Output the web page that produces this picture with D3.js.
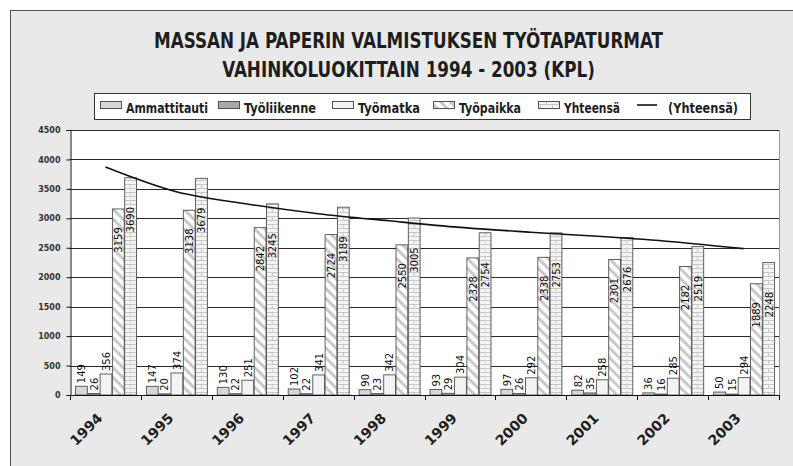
<!DOCTYPE html>
<html>
<head>
<meta charset="utf-8">
<script src="https://cdn.jsdelivr.net/npm/d3@7/dist/d3.min.js"></script>
<style>
body { margin: 0; background: #fff; }
</style>
</head>
<body>
<div id="chartContainer"></div>
<script type="text/javascript">
// data
var years = ["1994", "1995", "1996", "1997", "1998", "1999", "2000", "2001", "2002", "2003"];
var seriesNames = ["Ammattitauti", "Työliikenne", "Työmatka", "Työpaikka", "Yhteensä"];
var ammattitauti = [149, 147, 130, 102, 90, 93, 97, 82, 36, 50];
var tyoliikenne = [26, 20, 22, 22, 23, 29, 26, 35, 16, 15];
var tyomatka = [356, 374, 251, 341, 342, 304, 292, 258, 285, 294];
var tyopaikka = [3159, 3138, 2842, 2724, 2550, 2328, 2338, 2301, 2182, 1889];
var yhteensa = [3690, 3679, 3245, 3189, 3005, 2754, 2753, 2676, 2519, 2248];
// "(Yhteensä)" trend line
var trend = [3872, 3452, 3243, 3079, 2958, 2846, 2764, 2691, 2603, 2486];
var yTicks = [0, 500, 1000, 1500, 2000, 2500, 3000, 3500, 4000, 4500];
var titleLines = ["MASSAN JA PAPERIN VALMISTUKSEN TYÖTAPATURMAT", "VAHINKOLUOKITTAIN 1994 - 2003 (KPL)"];

var values = [ammattitauti, tyoliikenne, tyomatka, tyopaikka, yhteensa];
var fills = ["#d7d7d7", "#a9a9a9", "#f3f3f3", "url(#hatch)", "url(#brick)"];

var svg = d3.select("#chartContainer").append("svg")
  .attr("width", 793)
  .attr("height", 466);

// patterns
var defs = svg.append("defs");
var hatch = defs.append("pattern")
  .attr("id", "hatch")
  .attr("patternUnits", "userSpaceOnUse")
  .attr("width", 7).attr("height", 7)
  .attr("patternTransform", "rotate(-45)");
hatch.append("rect").attr("width", 7).attr("height", 7).attr("fill", "#fff");
hatch.append("rect").attr("x", 0).attr("width", 3).attr("height", 7).attr("fill", "#c9c9c9");

var brick = defs.append("pattern")
  .attr("id", "brick")
  .attr("patternUnits", "userSpaceOnUse")
  .attr("width", 12).attr("height", 8);
brick.append("rect").attr("width", 12).attr("height", 8).attr("fill", "#f4f4f4");
brick.append("path")
  .attr("d", "M0,0.5H12M0,4.5H12M0.5,0V4.5M6.5,4.5V8")
  .attr("stroke", "#c8c8c8").attr("stroke-width", 1).attr("fill", "none");

// chart area background (frame is cut at right and bottom)
svg.append("rect")
  .attr("x", 10.5).attr("y", 10.5)
  .attr("width", 800).attr("height", 480)
  .attr("fill", "#e9e9e9")
  .attr("stroke", "#555");

// title
var titleFont = "'Liberation Sans Narrow', 'DejaVu Sans Condensed', sans-serif";
var t1 = svg.append("text")
  .attr("x", 408.5).attr("y", 48)
  .attr("text-anchor", "middle")
  .style("font-family", titleFont)
  .style("font-weight", "bold")
  .style("font-size", "21px")
  .attr("fill", "#1e1e1e")
  .text(titleLines[0]);
var t2 = svg.append("text")
  .attr("x", 408.5).attr("y", 77)
  .attr("text-anchor", "middle")
  .style("font-family", titleFont)
  .style("font-weight", "bold")
  .style("font-size", "21px")
  .attr("fill", "#1e1e1e")
  .text(titleLines[1]);
var ratio = 509 / t1.node().getComputedTextLength();
t1.attr("textLength", 509).attr("lengthAdjust", "spacingAndGlyphs");
t2.attr("textLength", t2.node().getComputedTextLength() * ratio).attr("lengthAdjust", "spacingAndGlyphs");

// scales
var plotL = 70, plotR = 779, plotT = 130, plotB = 395;
var x0 = d3.scaleBand().domain(years).range([plotL, plotR]).padding(0);
var x1 = d3.scaleBand().domain(seriesNames).range([5, 66.5]).padding(0);
var y = d3.scaleLinear().domain([0, 4500]).range([plotB, plotT]);

// plot area
svg.append("rect")
  .attr("x", plotL).attr("y", plotT)
  .attr("width", plotR - plotL).attr("height", plotB - plotT)
  .attr("fill", "#fff");
svg.append("line")
  .attr("x1", plotR + 0.5).attr("x2", plotR + 0.5)
  .attr("y1", plotT).attr("y2", plotB)
  .attr("stroke", "#999");

// gridlines
svg.selectAll(".grid")
  .data(yTicks.slice(1))
  .enter().append("line")
  .attr("class", "grid")
  .attr("x1", plotL).attr("x2", plotR)
  .attr("y1", function (d) { return Math.round(y(d)) + 0.5; })
  .attr("y2", function (d) { return Math.round(y(d)) + 0.5; })
  .attr("stroke", "#2a2a2a")
  .attr("stroke-width", 1);

// y axis
var yAxis = d3.axisLeft(y).tickValues(yTicks).tickFormat(d3.format("d")).tickSize(4).tickPadding(6);
var yg = svg.append("g")
  .attr("transform", "translate(" + (plotL + 0.5) + ",0)")
  .call(yAxis);
yg.select(".domain").attr("stroke", "#111");
yg.selectAll(".tick line").attr("stroke", "#111");
yg.selectAll(".tick text")
  .style("font-family", "'DejaVu Sans', sans-serif")
  .style("font-size", "8px")
  .style("font-weight", "bold")
  .attr("fill", "#333");

// bars
var groups = svg.selectAll(".year")
  .data(years)
  .enter().append("g")
  .attr("class", "year")
  .attr("transform", function (d) { return "translate(" + x0(d) + ",0)"; });

seriesNames.forEach(function (s, si) {
  groups.append("rect")
    .attr("x", x1(s) + 0.5)
    .attr("y", function (d, i) { return y(values[si][i]); })
    .attr("width", x1.bandwidth() - 0.5)
    .attr("height", function (d, i) { return y(0) - y(values[si][i]); })
    .attr("fill", fills[si])
    .attr("stroke", "#505050")
    .attr("stroke-width", 0.9);
});

// value labels, rotated
seriesNames.forEach(function (s, si) {
  groups.append("text")
    .attr("transform", function (d, i) {
      var v = values[si][i];
      var cx = x1(s) + x1.bandwidth() / 2 + 0.5;
      var ly;
      if (si < 3) {
        ly = y(v) - 3;
        return "translate(" + cx + "," + ly + ") rotate(-90)";
      }
      ly = y(v) + (si === 3 ? 31 : 42);
      return "translate(" + cx + "," + ly + ") rotate(-90)";
    })
    .attr("text-anchor", si < 3 ? "start" : "middle")
    .attr("dy", "0.36em")
    .style("font-family", "'DejaVu Sans', sans-serif")
    .style("font-size", "10px")
    .attr("fill", "#111")
    .text(function (d, i) { return values[si][i]; });
});

// trend line
var line = d3.line()
  .x(function (d, i) { return x0(years[i]) + x0.bandwidth() / 2; })
  .y(function (d) { return y(d); })
  .curve(d3.curveMonotoneX);
svg.append("path")
  .datum(trend)
  .attr("d", line)
  .attr("fill", "none")
  .attr("stroke", "#111")
  .attr("stroke-width", 1.6);

// x axis
svg.append("line")
  .attr("x1", plotL).attr("x2", plotR + 1)
  .attr("y1", plotB + 0.5).attr("y2", plotB + 0.5)
  .attr("stroke", "#111");
var boundaries = years.map(function (d) { return x0(d); }).concat([plotR]);
svg.selectAll(".xtick")
  .data(boundaries)
  .enter().append("line")
  .attr("x1", function (d) { return Math.round(d) + 0.5; })
  .attr("x2", function (d) { return Math.round(d) + 0.5; })
  .attr("y1", plotB).attr("y2", plotB + 5)
  .attr("stroke", "#111");
svg.selectAll(".xlabel")
  .data(years)
  .enter().append("text")
  .attr("transform", function (d) {
    return "translate(" + (x0(d) + x0.bandwidth() / 2 - 2) + "," + (plotB + 24) + ") rotate(-45)";
  })
  .attr("text-anchor", "end")
  .style("font-family", "'DejaVu Sans', sans-serif")
  .style("font-weight", "bold")
  .style("font-size", "14px")
  .attr("fill", "#1e1e1e")
  .text(function (d) { return d; });

// legend
svg.append("rect")
  .attr("x", 94.5).attr("y", 93.5)
  .attr("width", 656).attr("height", 26)
  .attr("fill", "#fff")
  .attr("stroke", "#333");
var legendItems = [
  { name: "Ammattitauti", sx: 100, tw: 82, fill: fills[0] },
  { name: "Työliikenne", sx: 218, tw: 72, fill: fills[1] },
  { name: "Työmatka", sx: 332, tw: 62, fill: fills[2] },
  { name: "Työpaikka", sx: 433, tw: 62, fill: fills[3] },
  { name: "Yhteensä", sx: 538, tw: 56, fill: fills[4] }
];
var lg = svg.append("g");
legendItems.forEach(function (it) {
  lg.append("rect")
    .attr("x", it.sx + 0.5).attr("y", 101.5)
    .attr("width", 21).attr("height", 7)
    .attr("fill", it.fill)
    .attr("stroke", "#505050");
  lg.append("text")
    .attr("x", it.sx + 26).attr("y", 113)
    .style("font-family", titleFont)
    .style("font-weight", "bold")
    .style("font-size", "14px")
    .attr("fill", "#1e1e1e")
    .attr("textLength", it.tw)
    .attr("lengthAdjust", "spacingAndGlyphs")
    .text(it.name);
});
lg.append("line")
  .attr("x1", 637).attr("x2", 657)
  .attr("y1", 105).attr("y2", 105)
  .attr("stroke", "#111").attr("stroke-width", 1.6);
lg.append("text")
  .attr("x", 668).attr("y", 113)
  .style("font-family", titleFont)
  .style("font-weight", "bold")
  .style("font-size", "14px")
  .attr("fill", "#1e1e1e")
  .attr("textLength", 70)
  .attr("lengthAdjust", "spacingAndGlyphs")
  .text("(Yhteensä)");
</script>
</body>
</html>
